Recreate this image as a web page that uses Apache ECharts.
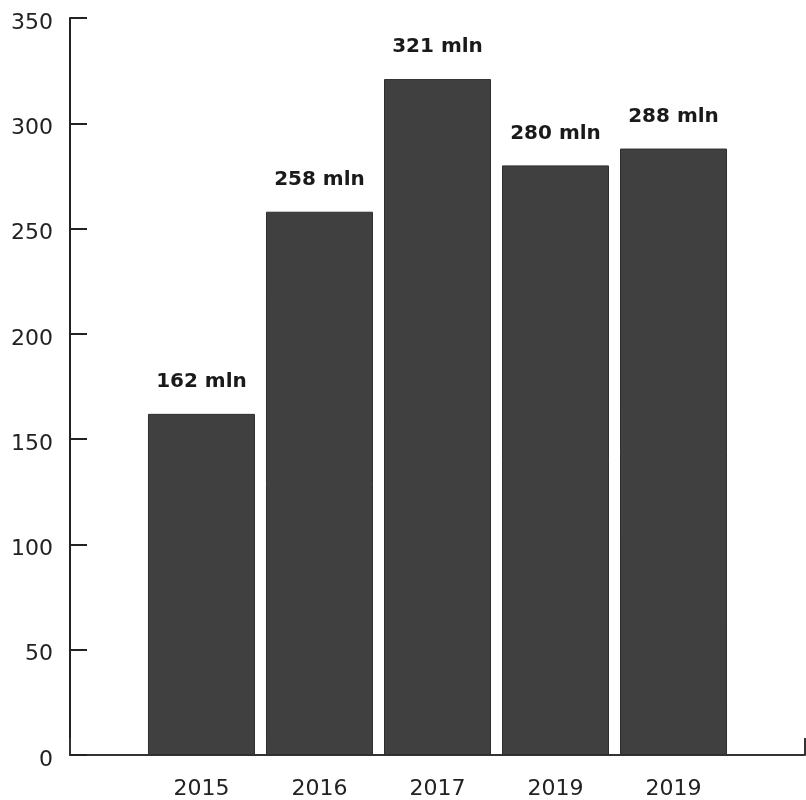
<!DOCTYPE html>
<html><head><meta charset="utf-8">
<script src="https://cdn.jsdelivr.net/npm/echarts@6/dist/echarts.min.js"></script>
<style>html,body{margin:0;padding:0;background:#fff}#c{width:806px;height:800px}</style>
</head><body><div id="c"></div>
<script>
const years = ['2015','2016','2017','2019','2019'];
const values = [162, 258, 321, 280, 288];
const yTicks = [0, 50, 100, 150, 200, 250, 300, 350];

const chart = echarts.init(document.getElementById('c'));
const xMin = -1.114, xMax = 5.114;
chart.setOption({
  animation: false,
  grid: {left: 70, right: 1, top: 18, bottom: 44, containLabel: false},
  xAxis: {
    type: 'value', min: xMin, max: xMax,
    splitLine: {show: false},
    axisLine: {show: true, onZero: false, lineStyle: {color: '#333', width: 2}},
    axisTick: {show: true, inside: true, length: 17, customValues: [xMin, xMax], lineStyle: {color: '#333', width: 2}},
    axisLabel: {customValues: years.map((_, i) => i), formatter: v => years[Math.round(v)], color: '#222', fontSize: 22, fontFamily: 'DejaVu Sans', margin: 23}
  },
  yAxis: {
    type: 'value', min: 0, max: 350, interval: 50,
    splitLine: {show: false},
    axisLine: {show: true, onZero: false, lineStyle: {color: '#222', width: 2}},
    axisTick: {show: true, inside: true, length: 17, customValues: yTicks, lineStyle: {color: '#222', width: 2}},
    axisLabel: {customValues: yTicks, color: '#222', fontSize: 22, fontFamily: 'DejaVu Sans', margin: 17, verticalAlign: 'top', lineHeight: 10}
  },
  series: [{
    type: 'bar',
    barWidth: 107,
    data: values.map((v, i) => [i, v]),
    itemStyle: {color: '#404040', borderColor: '#2e2e2e', borderWidth: 1},
    label: {show: true, position: 'top', distance: 22, formatter: p => p.value[1] + ' mln', color: '#1a1a1a', fontSize: 20, fontWeight: 'bold', fontFamily: 'DejaVu Sans'}
  }]
});
</script></body></html>
